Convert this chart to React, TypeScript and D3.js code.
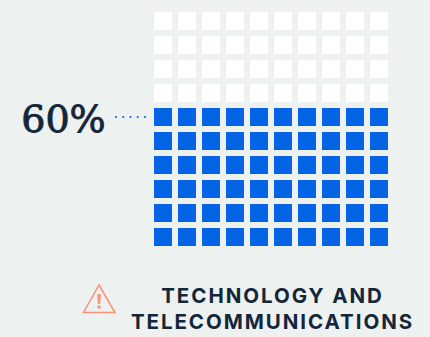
import React from "react";
import * as d3 from "d3";

const percent = 60;
const rowIndex = d3.range(10);
const colIndex = d3.range(10);
const valueLabel = "60%";
const titleLines = ["TECHNOLOGY AND", "TELECOMMUNICATIONS"];

const width = 430;
const height = 337;
const BLUE = "#0563e6";
const EMPTY = "#ffffff";
const BG = "#edf1f0";
const INK = "#14273a";
const ALERT = "#fd8f7b";

// Each cell has an 18px square on a 24px pitch.
const x = d3.scaleBand<number>().domain(colIndex).range([151, 391]).paddingInner(0.25).paddingOuter(0.125);
const y = d3.scaleBand<number>().domain(rowIndex).range([9, 249]).paddingInner(0.25).paddingOuter(0.125);

export default function App() {
  const filledRows = Math.round((percent / 100) * rowIndex.length);
  const firstFilledRow = rowIndex.length - filledRows;
  const leaderY = y(firstFilledRow)! + 9;
  const dots = d3.range(5).map((i) => 116 + i * 7.25);
  return (
    <svg
      width={width}
      height={height}
      viewBox={`0 0 ${width} ${height}`}
      style={{ position: "fixed", left: 0, top: 0, display: "block", background: BG }}
    >
      {rowIndex.map((r) =>
        colIndex.map((c) => (
          <rect
            key={`${r}-${c}`}
            x={x(c)}
            y={y(r)}
            width={x.bandwidth()}
            height={y.bandwidth()}
            fill={r >= firstFilledRow ? BLUE : EMPTY}
          />
        ))
      )}
      <text
        x={63.5}
        y={132}
        textAnchor="middle"
        fontFamily="'DejaVu Serif', serif"
        fontSize={38}
        stroke={INK}
        strokeWidth={0.9}
        fill={INK}
      >
        {valueLabel}
      </text>
      {dots.map((d) => (
        <circle key={d} cx={d} cy={leaderY} r={1.1} fill={BLUE} />
      ))}
      <path d="M99 285 L115 312.5 L83.5 312.5 Z" fill="none" stroke={ALERT} strokeWidth={1.5} />
      <path d="M97.2 294 L100.8 294 L100.2 304 L97.8 304 Z" fill={ALERT} />
      <circle cx={99} cy={307} r={1.7} fill={ALERT} />
      {titleLines.map((line, i) => (
        <text
          key={line}
          x={272.5}
          y={302.5 + i * 26}
          textAnchor="middle"
          fontFamily="Inter, sans-serif"
          fontSize={20.5}
          fontWeight={700}
          letterSpacing={1.95}
          fill={INK}
        >
          {line}
        </text>
      ))}
    </svg>
  );
}
